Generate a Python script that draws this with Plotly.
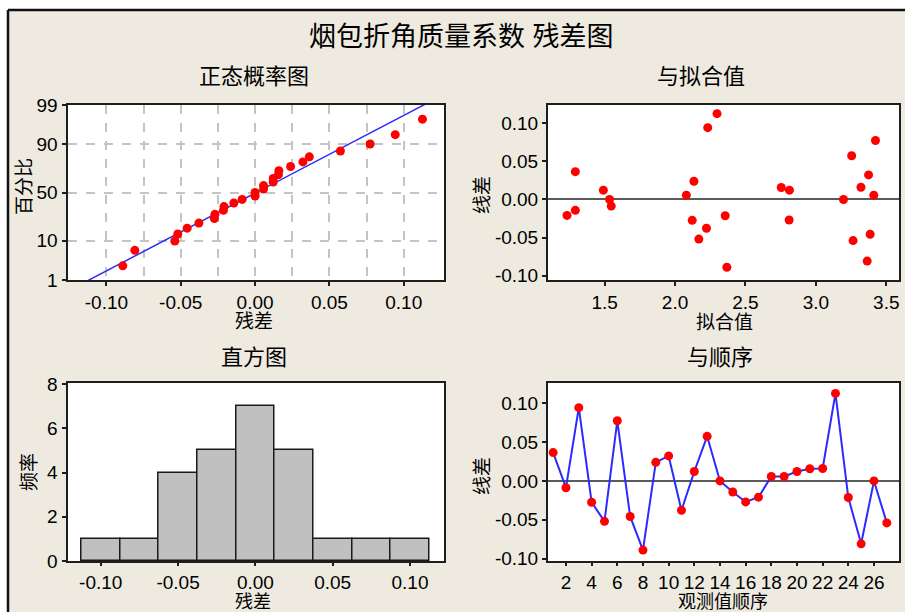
import plotly.graph_objects as go
from statistics import NormalDist, mean, stdev

# Residuals in observation order, with the fitted value of each observation
residuals = [0.0365, -0.0087, 0.0943, -0.0274, -0.0520, 0.0774, -0.0457, -0.0890, 0.0239, 0.0322,
             -0.0378, 0.0122, 0.0574, 0.0000, -0.0143, -0.0270, -0.0209, 0.0057, 0.0057, 0.0122,
             0.0157, 0.0160, 0.1126, -0.0213, -0.0809, 0.0000, -0.0540]
fitted = [1.292, 1.547, 2.232, 2.122, 2.169, 3.423, 3.385, 2.368, 2.134, 3.374,
          2.223, 1.491, 3.254, 1.535, 1.292, 2.810, 1.233, 2.080, 3.411, 2.812,
          2.754, 3.320, 2.298, 2.356, 3.364, 3.196, 3.264]
order = list(range(1, len(residuals) + 1))

pct_ticks = [1, 10, 50, 90, 99]
pct_labels = ["1", "10", "50", "90", "99"]
resid_ticks = [-0.10, -0.05, 0.00, 0.05, 0.10]
resid_labels = ["-0.10", "-0.05", "0.00", "0.05", "0.10"]
resid_minor = [-0.075, -0.025, 0.025, 0.075]
fit_ticks = [1.5, 2.0, 2.5, 3.0, 3.5]
fit_labels = ["1.5", "2.0", "2.5", "3.0", "3.5"]
order_ticks = list(range(2, 27, 2))
freq_ticks = [0, 2, 4, 6, 8]

W, H = 905, 612
BG = "#EEEAE0"
FONT = "Liberation Sans, Arial, Noto Sans CJK SC"
RED = "#FF0000"
BLUE = "#2B2BFF"

nd = NormalDist()


def px(x):
    return x / W


def py(y):
    return 1 - y / H


# Normal probability positions (median ranks)
n = len(residuals)
sorted_res = sorted(residuals)
z_pts = [nd.inv_cdf((i + 1 - 0.3) / (n + 0.4)) for i in range(n)]
mu, sd = mean(residuals), stdev(residuals)
z_line = [-2.6, 2.6]
x_line = [mu + z * sd for z in z_line]

fig = go.Figure()

# Normal probability plot
fig.add_trace(go.Scatter(x=x_line, y=z_line, mode="lines",
                         line=dict(color=BLUE, width=1.5), xaxis="x", yaxis="y"))
fig.add_trace(go.Scatter(x=sorted_res, y=z_pts, mode="markers",
                         marker=dict(color=RED, size=9), xaxis="x", yaxis="y"))

# Residuals versus fits
fig.add_trace(go.Scatter(x=fitted, y=residuals, mode="markers",
                         marker=dict(color=RED, size=9), xaxis="x2", yaxis="y2"))

# Histogram
fig.add_trace(go.Histogram(x=residuals, xbins=dict(start=-0.1125, end=0.1125, size=0.025),
                           marker=dict(color="#C0C0C0", line=dict(color="#1A1A1A", width=1.5)),
                           xaxis="x3", yaxis="y3"))

# Residuals versus order
fig.add_trace(go.Scatter(x=order, y=residuals, mode="lines+markers",
                         line=dict(color=BLUE, width=2),
                         marker=dict(color=RED, size=9), xaxis="x4", yaxis="y4"))

axis_common = dict(showline=True, linecolor="#1E1E1E", linewidth=2, mirror=True,
                   ticks="outside", ticklen=4, tickwidth=1.5, tickcolor="#1E1E1E",
                   tickfont=dict(family=FONT, size=19, color="black"),
                   showgrid=False, zeroline=False, fixedrange=True, automargin=False)

top_dom = [py(280), py(105)]
bot_dom = [py(561), py(383)]
left_dom = [px(67.5), px(444)]
right_dom = [px(548), px(899)]

grid = dict(showgrid=True, gridcolor="#C4C4C4", gridwidth=1.5, griddash="dash")

fig.update_layout(
    template="none",
    width=W, height=H, autosize=False,
    margin=dict(l=0, r=0, t=0, b=0, pad=0, autoexpand=False),
    paper_bgcolor=BG, plot_bgcolor="white",
    showlegend=False, bargap=0,
    xaxis=dict(axis_common, domain=left_dom, anchor="y", range=[-0.1262, 0.1271],
               tickvals=resid_ticks, ticktext=resid_labels,
               minor=dict(tickvals=resid_minor, ticks="", showgrid=True, gridcolor="#C4C4C4",
                          gridwidth=1.5, griddash="dash"),
               **grid),
    yaxis=dict(axis_common, domain=top_dom, anchor="x",
               range=[nd.inv_cdf(0.01), nd.inv_cdf(0.99)],
               tickvals=[nd.inv_cdf(p / 100) for p in pct_ticks], ticktext=pct_labels,
               **grid),
    xaxis2=dict(axis_common, domain=right_dom, anchor="y2", range=[1.098, 3.59],
                tickvals=fit_ticks, ticktext=fit_labels),
    yaxis2=dict(axis_common, domain=top_dom, anchor="x2", range=[-0.1057, 0.124],
                tickvals=resid_ticks, ticktext=resid_labels,
                zeroline=True, zerolinecolor="#5A5A5A", zerolinewidth=2),
    xaxis3=dict(axis_common, domain=left_dom, anchor="y3", range=[-0.1215, 0.122],
                tickvals=resid_ticks, ticktext=resid_labels, ticklen=3),
    yaxis3=dict(axis_common, domain=bot_dom, anchor="x3", range=[0, 8.05],
                tickvals=freq_ticks),
    xaxis4=dict(axis_common, domain=right_dom, anchor="y4", range=[0.6, 27.95],
                tickvals=order_ticks, ticklen=3),
    yaxis4=dict(axis_common, domain=bot_dom, anchor="x4", range=[-0.103, 0.126],
                tickvals=resid_ticks, ticktext=resid_labels,
                zeroline=True, zerolinecolor="#5A5A5A", zerolinewidth=2),
)

# Window frame: white surround with a dark border line
fig.add_shape(type="rect", xref="paper", yref="paper", x0=0, x1=1, y0=py(9), y1=1.01,
              fillcolor="white", line=dict(width=0), layer="above")
fig.add_shape(type="rect", xref="paper", yref="paper", x0=-0.01, x1=px(7), y0=-0.01, y1=1.01,
              fillcolor="white", line=dict(width=0), layer="above")
fig.add_shape(type="line", xref="paper", yref="paper", x0=px(8), x1=1.01, y0=py(10), y1=py(10),
              line=dict(color="#111111", width=2.5), layer="above")
fig.add_shape(type="line", xref="paper", yref="paper", x0=px(8), x1=px(8), y0=-0.01, y1=py(10),
              line=dict(color="#111111", width=2.5), layer="above")


def label(text, x, y, size, angle=0):
    fig.add_annotation(text=text, x=px(x), y=py(y), xref="paper", yref="paper",
                       showarrow=False, textangle=angle, xanchor="center", yanchor="middle",
                       borderpad=0, font=dict(family=FONT, size=size, color="black"))


# Titles
label("烟包折角质量系数 残差图", 462, 37, 27)
label("正态概率图", 254, 76, 22)
label("与拟合值", 701, 76, 22)
label("直方图", 254, 357, 22)
label("与顺序", 720, 357, 22)

# Axis titles
label("残差", 254, 321, 19)
label("百分比", 24, 187, 19, -90)
label("拟合值", 724, 322, 19)
label("线差", 482, 195, 19, -90)
label("残差", 253, 601.5, 18)
label("频率", 29, 472, 19, -90)
label("观测值顺序", 723, 601.5, 18)
label("线差", 482, 476, 19, -90)

fig.write_html("out.html")
